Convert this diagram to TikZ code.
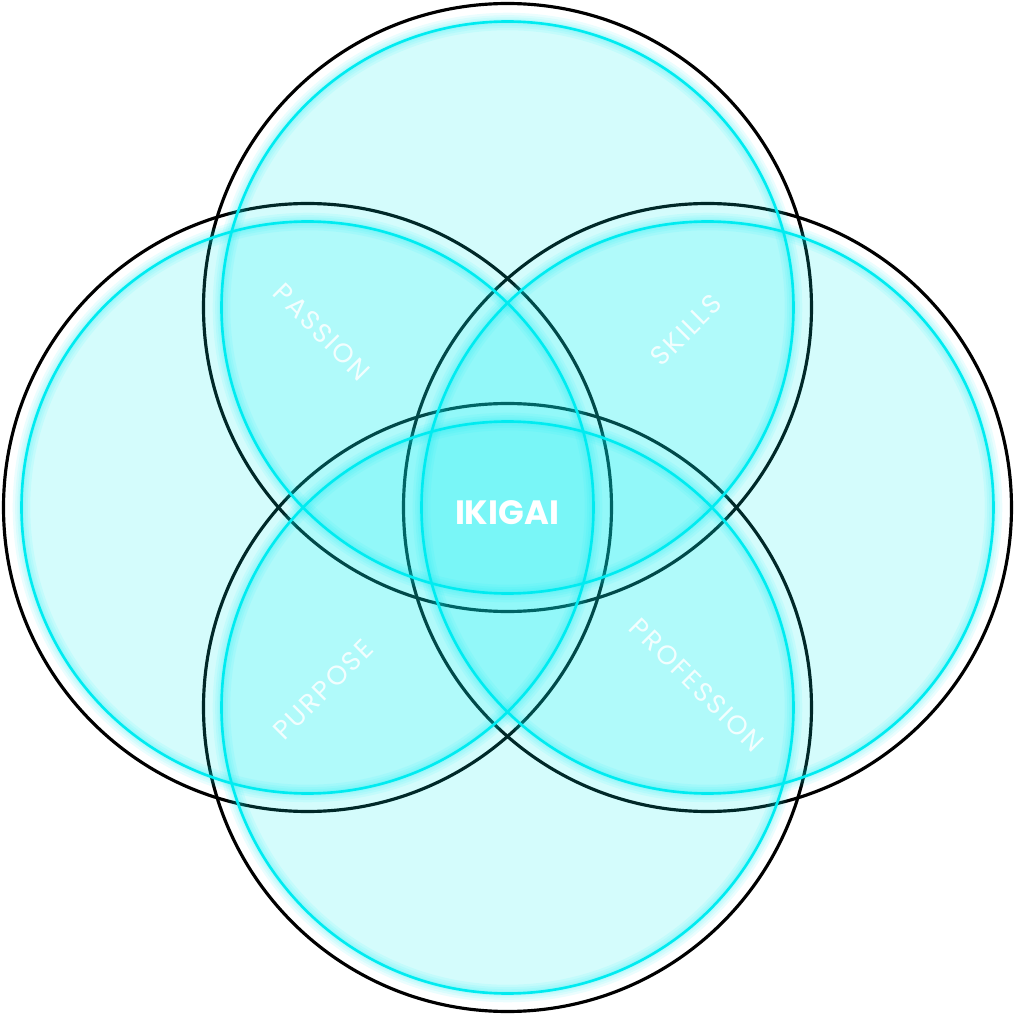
\documentclass[tikz,border=0pt]{standalone}
\usepackage{tikz}
\usepackage{xcolor}
\usepackage{fontspec}
\usetikzlibrary{positioning, calc}
\newfontfamily\labelfont[LetterSpace=8]{Poppins}
\newfontfamily\titlefont{Poppins}
\definecolor{ikicyan}{RGB}{0,235,240}
\definecolor{ikifill}{RGB}{0,238,240}

\begin{document}
\begin{tikzpicture}[
    outline/.style={draw=black, line width=0.9pt},
    bubble/.style={fill=ikifill, fill opacity=0.17},
    halo/.style={draw=ikicyan, line width=#1, draw opacity=0.08},
    rim/.style={draw=ikicyan, line width=0.75pt},
    tag/.style={text=white, text opacity=0.85, inner sep=0pt, font=\labelfont\fontsize{7.6}{9}\selectfont},
    title/.style={text=white, inner sep=0pt, font=\titlefont\bfseries\fontsize{9.6}{11}\selectfont}
]
\useasboundingbox (0,0) rectangle (10.15,10.15);

\coordinate (ctop) at (5.075,7.075);
\coordinate (cleft) at (3.075,5.075);
\coordinate (cright) at (7.075,5.075);
\coordinate (cbottom) at (5.075,3.075);

% black outer rings
\draw[outline] (ctop) circle (3.04);
\draw[outline] (cleft) circle (3.04);
\draw[outline] (cright) circle (3.04);
\draw[outline] (cbottom) circle (3.04);

% translucent discs
\fill[bubble] (ctop) circle (2.86);
\fill[bubble] (cleft) circle (2.86);
\fill[bubble] (cright) circle (2.86);
\fill[bubble] (cbottom) circle (2.86);

% soft glow round the cyan rims
\foreach \c in {ctop, cleft, cright, cbottom} {
    \draw[halo=5pt] (\c) circle (2.86);
    \draw[halo=3.6pt] (\c) circle (2.86);
    \draw[halo=2.4pt] (\c) circle (2.86);
    \draw[halo=1.4pt] (\c) circle (2.86);
    \draw[rim] (\c) circle (2.86);
}

\node[tag, rotate=-45] (passion) at (3.22,6.83) {PASSION};
\node[tag, rotate=45] (skills) at (6.86,6.85) {SKILLS};
\node[tag, rotate=45] (purpose) at (3.23,3.25) {PURPOSE};
\node[tag, rotate=-45] (profession) at (6.97,3.30) {PROFESSION};
\node[title] (ikigai) at (5.07,5.02) {IKIGAI};

\end{tikzpicture}
\end{document}
